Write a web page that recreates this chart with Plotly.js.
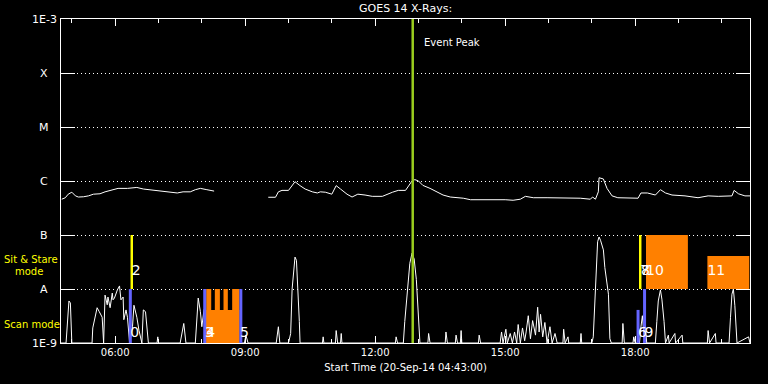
<!DOCTYPE html>
<html><head><meta charset="utf-8">
<script src="https://cdn.plot.ly/plotly-3.0.1.min.js"></script>
<style>html,body{margin:0;padding:0;background:#000;} #chart{width:768px;height:384px;}</style>
</head><body><div id="chart"></div>
<script>
const DAY = '2014-09-20 ';

// GOES long channel (1-8 A)
const longTimes = ['04:46','04:51','04:55','05:00','05:05','05:09','05:16','05:23','05:30','05:39','05:46','05:53','06:00','06:04','06:17','06:30','06:39','06:48','06:58','07:12','07:26','07:34','07:44','07:51','07:58','08:07','08:17','08:50',
 '09:32','09:42','09:46','09:51','10:00','10:09','10:16','10:23','10:33','10:40','10:44','10:51','11:00','11:06','11:12','11:21','11:28','11:36','11:46','11:56','12:10','12:17','12:24','12:32','12:42','12:51','12:55','13:00','13:06','13:16','13:26','13:34','13:44','14:02','14:12','14:25','14:53','15:00','15:11','15:21','15:28','15:39','15:58','16:16','16:30','16:44','16:58','17:01','17:05','17:09','17:10','17:16','17:21','17:28','17:36','17:50','18:04','18:08','18:17','18:28','18:35','18:42','18:51','19:09','19:27','19:41','19:55','20:14','20:17','20:23','20:32','20:39'];
const longFlux = [4.6e-7,4.9e-7,5.7e-7,6.2e-7,5.3e-7,5.05e-7,5.1e-7,5.3e-7,5.7e-7,5.8e-7,6.3e-7,6.7e-7,6.9e-7,7.3e-7,7.3e-7,7.6e-7,7.1e-7,6.9e-7,6.7e-7,6.3e-7,6.0e-7,6.3e-7,6.3e-7,6.9e-7,7.3e-7,6.9e-7,6.5e-7,null,
 5.0e-7,5.0e-7,6.3e-7,6.7e-7,6.7e-7,9.7e-7,8.2e-7,7.1e-7,6.3e-7,6.0e-7,6.3e-7,6.2e-7,5.7e-7,8.2e-7,7.1e-7,5.7e-7,5.05e-7,5.7e-7,5.5e-7,5.2e-7,5.2e-7,5.7e-7,6.2e-7,6.7e-7,6.7e-7,1.0e-6,1.06e-6,1.0e-6,8.3e-7,7.3e-7,6.2e-7,5.5e-7,5.05e-7,4.8e-7,4.5e-7,4.5e-7,4.6e-7,4.5e-7,4.4e-7,4.6e-7,5.2e-7,4.9e-7,4.9e-7,4.9e-7,4.9e-7,4.8e-7,4.6e-7,5.05e-7,4.6e-7,6.3e-7,1.15e-6,1.09e-6,7.3e-7,5.3e-7,4.9e-7,4.8e-7,4.8e-7,6.0e-7,6.0e-7,5.5e-7,6.9e-7,6.0e-7,5.5e-7,5.3e-7,4.9e-7,5.3e-7,5.2e-7,5.3e-7,6.7e-7,5.8e-7,5.3e-7,5.3e-7];

// GOES short channel (0.5-4 A)
const shortTimes = ['04:45','04:52','04:56','04:58','05:00','05:28','05:29','05:32','05:35','05:38','05:42','05:44','05:46','05:49','05:50','05:53','05:56','05:57','05:59','06:03','06:06','06:08','06:11','06:12','06:15','06:17','06:20','06:24','06:26','06:30','06:33','06:37','06:39','06:42','06:44','06:46','06:58','06:59','07:00','07:30','07:35','07:38','07:51','07:54','07:55','07:58','08:00','08:03','08:05','08:07','08:10','08:13','08:16','08:59','09:01','09:04','09:43','09:46','09:48','10:00','10:03','10:05','10:08','10:09','10:11','10:13','10:15','10:16','10:47','10:48','10:49','11:05','11:06','11:08','11:12','11:13','11:14','12:28','12:29','12:31','12:39','12:41','12:45','12:48','12:51','12:54','12:57','13:00','13:02','13:13','13:14','13:16','13:37','13:38','13:40','13:51','13:52','13:54','13:58','13:59','14:00','14:23','14:24','14:26','14:53','14:55','14:57','15:01','15:03','15:07','15:10','15:13','15:16','15:18','15:21','15:24','15:27','15:29','15:32','15:35','15:38','15:42','15:45','15:47','15:49','15:52','15:55','15:58','16:02','16:05','16:09','16:12','16:20','16:21','16:23','16:27','16:28','16:44','16:45','16:46','17:00','17:02','17:05','17:08','17:10','17:12','17:16','17:18','17:23','17:25','17:27','17:42','17:43','17:45','17:57','17:58','18:00','18:06','18:08','18:10','18:12','18:14','18:16','18:28','18:30','18:32','18:35','18:37','18:40','18:42','18:46','18:47','18:55','18:56','19:05','19:06','19:40','19:41','19:43','19:51','19:52','20:10','20:12','20:14','20:16','20:18','20:21','20:37','20:39'];
const shortFlux = [1e-9,1e-9,6.0e-9,5.5e-9,1e-9,1e-9,1.9e-9,3.0e-9,4.5e-9,3.8e-9,3.0e-9,1e-9,7.7e-9,5.1e-9,7.1e-9,4.5e-9,8.4e-9,6.3e-9,6.8e-9,9.6e-9,1.14e-8,6.3e-9,7.1e-9,2.7e-9,4.1e-9,3.0e-9,1e-9,2.0e-9,5.0e-9,3.0e-9,1.7e-9,1e-9,4.1e-9,3.8e-9,1.7e-9,1e-9,1e-9,1.3e-9,1e-9,1e-9,2.3e-9,1e-9,1e-9,5.5e-9,6.8e-9,3.8e-9,2.0e-9,4.1e-9,4.6e-9,1.5e-9,2.0e-9,1.3e-9,1e-9,1e-9,1.4e-9,1e-9,1e-9,2.0e-9,1e-9,1e-9,1.5e-9,1.0e-8,3.4e-8,3.9e-8,3.4e-8,1.1e-8,2.5e-9,1e-9,1e-9,1.3e-9,1e-9,1e-9,1.7e-9,1e-9,1e-9,1.5e-9,1e-9,1e-9,1.3e-9,1e-9,1e-9,2.5e-9,1.2e-8,3.0e-8,4.6e-8,3.6e-8,1.5e-8,3.0e-9,1e-9,1e-9,1.5e-9,1e-9,1e-9,1.6e-9,1e-9,1e-9,1.4e-9,1e-9,1e-9,1.7e-9,1e-9,1e-9,1.4e-9,1e-9,1e-9,1.6e-9,1e-9,1.8e-9,1e-9,1.5e-9,1e-9,1.6e-9,1e-9,2.2e-9,1e-9,1.9e-9,1.1e-9,1.6e-9,3.2e-9,1.2e-9,2.6e-9,1.4e-9,4.6e-9,1.6e-9,3.4e-9,1.3e-9,2.4e-9,1e-9,2.0e-9,1e-9,1.5e-9,1e-9,1e-9,1.8e-9,1e-9,1.3e-9,1e-9,1e-9,1.5e-9,1e-9,1e-9,1.3e-9,1.1e-8,7.5e-8,9.2e-8,8.0e-8,5.3e-8,2.5e-8,8.0e-9,1.2e-9,1e-9,1e-9,2.3e-9,1e-9,1e-9,1.3e-9,1e-9,1e-9,2.0e-9,3.2e-9,1.5e-9,2.0e-9,1e-9,1e-9,2.5e-9,6.0e-9,9.6e-9,6.5e-9,2.5e-9,1e-9,1.4e-9,1e-9,1.5e-9,1e-9,1.4e-9,1e-9,1e-9,1.7e-9,1e-9,1.5e-9,1e-9,1e-9,3.0e-9,8.0e-9,1.0e-8,5.0e-9,1e-9,1.3e-9,1e-9];

// observation blocks (orange)
const blockStart = ['08:06','08:06','08:18','08:30','08:42','18:15','19:40'];
const blockEnd   = ['08:52','08:13','08:25','08:36','08:52','19:13','20:38'];
const blockLow   = [1e-9,1e-9,1e-9,1e-9,1e-9,1e-8,1e-8];
const blockHigh  = [4.1e-9,1e-8,1e-8,1e-8,1e-8,1e-7,4.1e-8];

// observation marker lines
const lineTime = ['06:21','06:23','08:04','08:54','18:04','18:07','18:13'];
const lineMode = ['scan','sit','scan','scan','scan','sit','scan'];
const lineLow  = [1e-9,1e-8,1e-9,1e-9,1e-9,1e-8,1e-9];
const lineHigh = [1e-8,1e-7,1e-8,1e-8,4.1e-9,1e-7,1e-8];

// observation labels
const labelText = ['0','2','3','4','5','6','7','8','9','10','11'];
const labelTime = ['06:21','06:23','08:04','08:06','08:53','18:04','18:07','18:08','18:13','18:15','19:40'];
const labelZone = ['scan','sit','scan','scan','scan','scan','sit','sit','scan','sit','sit'];

const eventPeak = '12:52';
const yLevelLabels = ['1E-9','A','B','C','M','X','1E-3'];
const yLevelValues = [1e-9,1e-8,1e-7,1e-6,1e-5,1e-4,1e-3];

const FONT = 'DejaVu Sans';
const T = t => DAY + t;
const traces = [];

traces.push({x: shortTimes.map(T), y: shortFlux, mode:'lines', line:{color:'#fff', width:1}, hoverinfo:'skip', showlegend:false});
traces.push({x: longTimes.map(T), y: longFlux, mode:'lines', line:{color:'#fff', width:1}, connectgaps:false, hoverinfo:'skip', showlegend:false});

for (let i = 0; i < blockStart.length; i++) {
  const a = T(blockStart[i]), b = T(blockEnd[i]);
  traces.push({x:[a,b,b,a,a], y:[blockLow[i],blockLow[i],blockHigh[i],blockHigh[i],blockLow[i]],
    mode:'lines', fill:'toself', fillcolor:'#ff8000', line:{width:0, color:'#ff8000'}, hoverinfo:'skip', showlegend:false});
}
const modeColor = {scan:'#6464ff', sit:'#ffff00'};
for (let i = 0; i < lineTime.length; i++) {
  traces.push({x:[T(lineTime[i]),T(lineTime[i])], y:[lineLow[i],lineHigh[i]], mode:'lines',
    line:{color:modeColor[lineMode[i]], width: lineMode[i]==='scan'?3:2.5}, hoverinfo:'skip', showlegend:false});
}
traces.push({x:[T(eventPeak),T(eventPeak)], y:[1e-9,1e-3], mode:'lines', line:{color:'#9acd1e', width:2.5}, hoverinfo:'skip', showlegend:false});

traces.push({x: labelTime.map(T), y: labelZone.map(z => z==='sit' ? 2.07e-8 : 1.53e-9), mode:'text', text: labelText,
  textposition:'middle right', textfont:{family:FONT, size:14, color:'#fff'}, hoverinfo:'skip', showlegend:false, cliponaxis:false});

const annotations = yLevelLabels.map((s,i) => ({text:s, xref:'paper', x:-0.024, xanchor:'center', yref:'y', y:Math.log10(yLevelValues[i]), yanchor:'middle', showarrow:false, font:{family:FONT, size:11, color:'#fff'}}));
annotations.push({text:'GOES 14 X-Rays:', xref:'paper', x:0.5, xanchor:'center', yref:'paper', y:1.031, yanchor:'middle', showarrow:false, font:{family:FONT, size:11, color:'#fff'}});
annotations.push({text:'Event Peak', xref:'x', x:T(eventPeak), xanchor:'left', xshift:9, yref:'paper', y:0.926, yanchor:'middle', showarrow:false, font:{family:FONT, size:10, color:'#fff'}});
annotations.push({text:'Sit & Stare', xref:'paper', x:-0.0856, xanchor:'left', yref:'paper', y:0.259, yanchor:'middle', showarrow:false, font:{family:FONT, size:10, color:'#ffff00'}});
annotations.push({text:'mode', xref:'paper', x:-0.0697, xanchor:'left', yref:'paper', y:0.222, yanchor:'middle', showarrow:false, font:{family:FONT, size:10, color:'#ffff00'}});
annotations.push({text:'Scan mode', xref:'paper', x:-0.0856, xanchor:'left', yref:'paper', y:0.0586, yanchor:'middle', showarrow:false, font:{family:FONT, size:10, color:'#ffff00'}});

const layout = {
  width:768, height:384,
  margin:{l:61, r:18, t:19, b:41},
  paper_bgcolor:'#000', plot_bgcolor:'#000',
  showlegend:false,
  xaxis:{type:'date', range:[T('04:45'), T('20:39')], tick0:T('00:00'), dtick:3*3600000, tickformat:'%H:%M',
    ticks:'inside', ticklen:7, tickcolor:'#fff', tickwidth:1, showline:true, linecolor:'#fff', linewidth:1, mirror:'ticks',
    showgrid:false, zeroline:false, tickfont:{family:FONT, size:10, color:'#fff'},
    minor:{dtick:3600000, ticks:'inside', ticklen:4, tickcolor:'#fff', showgrid:false},
    title:{text:'Start Time (20-Sep-14 04:43:00)', font:{family:FONT, size:10, color:'#fff'}, standoff:6},
    automargin:false, fixedrange:true},
  yaxis:{type:'log', range:[-9,-3], tickvals:yLevelValues, showticklabels:false, ticks:'inside', ticklen:14, tickcolor:'#fff',
    showline:true, linecolor:'#fff', linewidth:1, mirror:'ticks', showgrid:true, gridcolor:'#fff', griddash:'1px,3px', gridwidth:1,
    zeroline:false, automargin:false, fixedrange:true},
  annotations: annotations
};
Plotly.newPlot('chart', traces, layout, {staticPlot:true, displayModeBar:false});
</script></body></html>
